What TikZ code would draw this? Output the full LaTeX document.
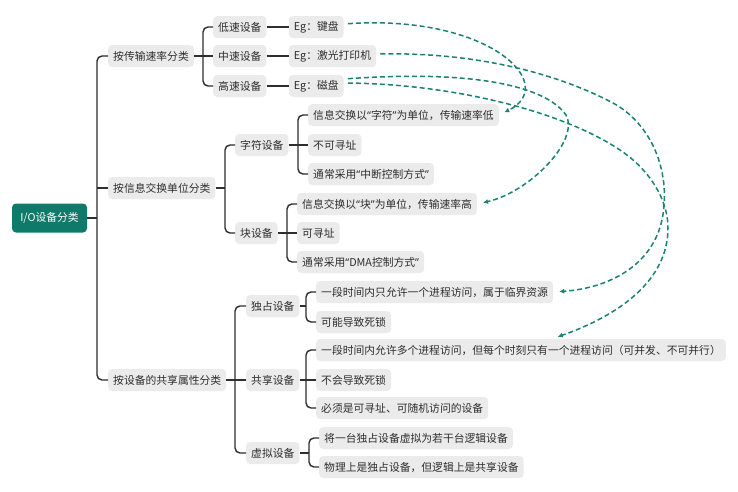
\documentclass[tikz,border=0pt]{standalone}
\usepackage{fontspec}
\setmainfont{Noto Sans CJK SC}
\newfontfamily\quotefont{Noto Sans}
\newcommand{\qopen}{{\quotefont “}}
\newcommand{\qclose}{{\quotefont ”}}
\usetikzlibrary{positioning,arrows.meta}
\definecolor{tealdark}{HTML}{0F7A69}
\definecolor{tealline}{HTML}{1A8272}
\definecolor{boxgray}{HTML}{EBEBEB}
\definecolor{inkgray}{HTML}{2E2E2E}

\begin{document}
\begin{tikzpicture}[
  x=1pt, y=-1pt,
  font=\fontsize{10.8}{13}\selectfont,
  root/.style={fill=tealdark, text=white, rounded corners=4pt, minimum width=75pt, minimum height=29pt, inner sep=3pt},
  item/.style={fill=boxgray, text=inkgray, rounded corners=4pt, anchor=west, minimum height=22pt, inner xsep=5pt, inner ysep=2pt},
  br/.style={draw=inkgray, line width=1.4pt, rounded corners=5pt},
  link/.style={draw=tealline, line width=1.5pt, dash pattern=on 5pt off 3pt, -{Latex[length=5pt,width=5pt]}, shorten >=6pt, shorten <=4pt}
]
\useasboundingbox[fill=white] (0,0) rectangle (738,491);

% root and first level
\node[root] (io) at (49.5,218) {I/O设备分类};
\node[item] (rate) at (108,56) {按传输速率分类};
\node[item] (unit) at (108,188) {按信息交换单位分类};
\node[item] (share) at (108,380) {按设备的共享属性分类};

% by speed
\node[item] (lo) at (213,27) {低速设备};
\node[item] (md) at (213,56) {中速设备};
\node[item] (hi) at (213,86) {高速设备};
\node[item, right=22pt of lo] (egkb) {Eg：键盘};
\node[item, right=22pt of md] (egpr) {Eg：激光打印机};
\node[item, right=22pt of hi] (egdk) {Eg：磁盘};

% by exchange unit
\node[item] (chr) at (235,145) {字符设备};
\node[item] (blk) at (235,233) {块设备};
\node[item] (c1) at (308,115) {信息交换以\qopen 字符\qclose 为单位，传输速率低};
\node[item] (c2) at (308,145) {不可寻址};
\node[item] (c3) at (308,174) {通常采用\qopen 中断控制方式\qclose};
\node[item] (k1) at (297,204) {信息交换以\qopen 块\qclose 为单位，传输速率高};
\node[item] (k2) at (297,233) {可寻址};
\node[item] (k3) at (297,262) {通常采用\qopen DMA控制方式\qclose};

% by sharing
\node[item] (ex) at (246,306) {独占设备};
\node[item] (sh) at (246,380) {共享设备};
\node[item] (vt) at (246,453) {虚拟设备};
\node[item] (e1) at (316,292) {一段时间内只允许一个进程访问，属于临界资源};
\node[item] (e2) at (316,322) {可能导致死锁};
\node[item] (s1) at (316,350) {一段时间内允许多个进程访问，但每个时刻只有一个进程访问（可并发、不可并行）};
\node[item] (s2) at (316,380) {不会导致死锁};
\node[item] (s3) at (316,408) {必须是可寻址、可随机访问的设备};
\node[item] (v1) at (319,438) {将一台独占设备虚拟为若干台逻辑设备};
\node[item] (v2) at (319,467) {物理上是独占设备，但逻辑上是共享设备};

% bracket joints
\coordinate (bio) at (97,218);
\coordinate (brate) at (203,56);
\coordinate (bunit) at (225,188);
\coordinate (bchr) at (298,145);
\coordinate (bblk) at (287,233);
\coordinate (bshare) at (235,380);
\coordinate (bex) at (306,306);
\coordinate (bsh) at (306,380);
\coordinate (bvt) at (309,453);

\draw[br] (io.east) -- (bio);
\draw[br] (rate.west) -| (bio) |- (share.west);
\draw[br] (bio |- unit.west) -- (unit.west);

\draw[br] (rate.east) -- (brate) -- (md.west);
\draw[br] (lo.west) -| (brate) |- (hi.west);
\draw[br] (lo) -- (egkb);
\draw[br] (md) -- (egpr);
\draw[br] (hi) -- (egdk);

\draw[br] (unit.east) -- (bunit);
\draw[br] (chr.west) -| (bunit) |- (blk.west);
\draw[br] (chr.east) -- (bchr) -- (c2.west);
\draw[br] (c1.west) -| (bchr) |- (c3.west);
\draw[br] (blk.east) -- (bblk) -- (k2.west);
\draw[br] (k1.west) -| (bblk) |- (k3.west);

\draw[br] (share.east) -- (bshare) -- (sh.west);
\draw[br] (ex.west) -| (bshare) |- (vt.west);
\draw[br] (ex.east) -- (bex);
\draw[br] (e1.west) -| (bex) |- (e2.west);
\draw[br] (sh.east) -- (bsh) -- (s2.west);
\draw[br] (s1.west) -| (bsh) |- (s3.west);
\draw[br] (vt.east) -- (bvt);
\draw[br] (v1.west) -| (bvt) |- (v2.west);

% examples to device kinds
\draw[link] ([yshift=3pt]egkb.east) .. controls (490,14) and (560,85) .. (c1.east);
\draw[link] ([yshift=2pt]egpr.east) .. controls (480,52) and (560,75) .. (613,103)
  .. controls (650,123) and (672,170) .. (662,220)
  .. controls (652,265) and (610,288) .. (e1.east);
\draw[link] ([yshift=7pt]egdk.east) .. controls (470,70) and (545,85) .. (566,115)
  .. controls (580,140) and (530,192) .. (k1.east);
\draw[link] ([yshift=3pt]egdk.east) .. controls (450,84) and (560,110) .. (620,150)
  .. controls (650,170) and (668,200) .. (668,228)
  .. controls (668,280) and (620,315) .. ([xshift=31pt]s1.north);
\end{tikzpicture}
\end{document}
